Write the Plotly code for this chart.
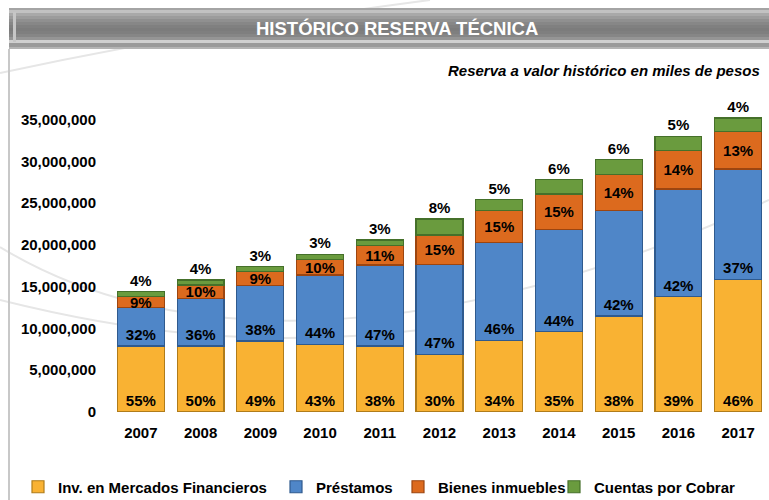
import plotly.graph_objects as go

# ---------------- data ----------------
years = ["2007", "2008", "2009", "2010", "2011", "2012", "2013", "2014", "2015", "2016", "2017"]
inv = [7900000, 7900000, 8500000, 8100000, 7900000, 6900000, 8600000, 9600000, 11500000, 13800000, 15900000]
prest = [4600000, 5700000, 6600000, 8300000, 9700000, 10800000, 11700000, 12300000, 12600000, 12900000, 13200000]
bienes = [1300000, 1600000, 1700000, 1900000, 2300000, 3500000, 3800000, 4200000, 4300000, 4600000, 4500000]
cuentas = [600000, 600000, 600000, 600000, 700000, 1900000, 1300000, 1700000, 1800000, 1700000, 1600000]

inv_pct = [55, 50, 49, 43, 38, 30, 34, 35, 38, 39, 46]
prest_pct = [32, 36, 38, 44, 47, 47, 46, 44, 42, 42, 37]
bienes_pct = [9, 10, 9, 10, 11, 15, 15, 15, 14, 14, 13]
cuentas_pct = [4, 4, 3, 3, 3, 8, 5, 6, 6, 5, 4]

y_ticks = [0, 5000000, 10000000, 15000000, 20000000, 25000000, 30000000, 35000000]

# ---------------- geometry helpers ----------------
W, H = 769, 500
ML, MR, MT, MB = 111, 1, 103, 88
PW = W - ML - MR
PH = H - MT - MB


def px(x):
    return (x - ML) / PW


def py(y):
    return (H - MB - y) / PH


BOLD = "Liberation Sans, Arial, sans-serif"

fig = go.Figure()

series = [
    ("Inv. en Mercados Financieros", inv, inv_pct, "#F9B233", "#B07C1A", "inside", "start", "legend"),
    ("Préstamos", prest, prest_pct, "#4F86C8", "#2F5A8E", "inside", "start", "legend2"),
    ("Bienes inmuebles", bienes, bienes_pct, "#DC6A1E", "#9C4510", "inside", "middle", "legend3"),
    ("Cuentas por Cobrar", cuentas, cuentas_pct, "#6A9B3E", "#45702A", "outside", "middle", "legend4"),
]

for name, vals, pct, fill, edge, pos, anchor, leg in series:
    fig.add_trace(go.Bar(
        x=years, y=vals, name=name,
        text=[f"{p}%" for p in pct],
        textposition=pos, insidetextanchor=anchor, textangle=0,
        constraintext="none", cliponaxis=False,
        textfont=dict(family=BOLD, size=15, color="black", weight="bold"),
        marker=dict(color=fill, line=dict(color=edge, width=1.2)),
        legend=leg, hoverinfo="skip",
    ))

# ---------------- decorative shapes ----------------
shapes = []
swooshes = [
    "M {} {} Q {} {} {} {}".format(px(0), py(73), px(200), py(30), px(430), py(0)),
    "M {} {} C {} {} {} {} {} {}".format(px(0), py(247), px(160), py(345), px(420), py(360), px(769), py(200)),
    "M {} {} C {} {} {} {} {} {}".format(px(0), py(300), px(120), py(330), px(250), py(350), px(420), py(330)),
]
for p in swooshes:
    shapes.append(dict(type="path", path=p, xref="paper", yref="paper",
                       line=dict(color="#e6e6e6", width=2), layer="below"))

shapes.append(dict(type="line", xref="paper", yref="paper", x0=px(9), x1=px(9), y0=py(49), y1=py(500),
                   line=dict(color="#c8c8c8", width=2), layer="below"))

bands = [
    (8, 10, "#a4a4a4"), (10, 13, "#c2c2c2"),
    (13, 16, "#a9a9a9"), (16, 19, "#9c9c9c"), (19, 22, "#909090"), (22, 25, "#878787"),
    (25, 28, "#808080"), (28, 31, "#7c7c7c"), (31, 34, "#7f7f7f"), (34, 37, "#868686"),
    (37, 40, "#959595"), (40, 43, "#d0d0d0"), (43, 47, "#9a9a9a"), (47, 49, "#b4b4b4"),
]
for y0, y1, c in bands:
    shapes.append(dict(type="rect", xref="paper", yref="paper", x0=px(9), x1=px(769),
                       y0=py(y1), y1=py(y0), fillcolor=c, line=dict(width=0), layer="below"))
shapes.append(dict(type="rect", xref="paper", yref="paper", x0=px(13), x1=px(16),
                   y0=py(42), y1=py(12), fillcolor="#c6c6c6", line=dict(width=0), layer="below"))

annotations = [
    dict(text="HISTÓRICO RESERVA TÉCNICA", xref="paper", yref="paper", x=px(397), y=py(28),
         xanchor="center", yanchor="middle", showarrow=False,
         font=dict(family=BOLD, size=18.5, color="white", weight="bold")),
    dict(text="Reserva a valor histórico en miles de pesos", xref="paper", yref="paper",
         x=px(762), y=py(70), xanchor="right", yanchor="middle", showarrow=False,
         font=dict(family=BOLD, size=15, color="black", weight="bold", style="italic")),
]

legend_font = dict(family=BOLD, size=15, color="black", weight="bold")


def leg(xpix):
    return dict(x=xpix / W, y=1 - 487 / H, xref="container", yref="container",
                xanchor="left", yanchor="middle", orientation="h",
                bgcolor="rgba(0,0,0,0)", font=legend_font, itemwidth=30)


fig.update_layout(
    width=W, height=H, autosize=False,
    margin=dict(l=ML, r=MR, t=MT, b=MB, pad=0),
    barmode="stack", bargap=0.214,
    plot_bgcolor="white", paper_bgcolor="white",
    showlegend=True,
    legend=leg(18), legend2=leg(276), legend3=leg(398), legend4=leg(554),
    uniformtext=dict(minsize=15, mode="show"),
    shapes=shapes, annotations=annotations,
    xaxis=dict(type="category", showgrid=False, showline=False, zeroline=False, ticks="",
               tickfont=dict(family=BOLD, size=15, color="black", weight="bold"),
               ticklabelstandoff=10),
    yaxis=dict(range=[0, 37000000], tickvals=y_ticks, tickformat=",d",
               showgrid=False, showline=False, zeroline=False, ticks="",
               tickfont=dict(family=BOLD, size=15, color="black", weight="bold"),
               ticklabelstandoff=14),
)

fig.write_html("out.html", config={"displayModeBar": False},
               post_script="document.body.style.margin='0';")
